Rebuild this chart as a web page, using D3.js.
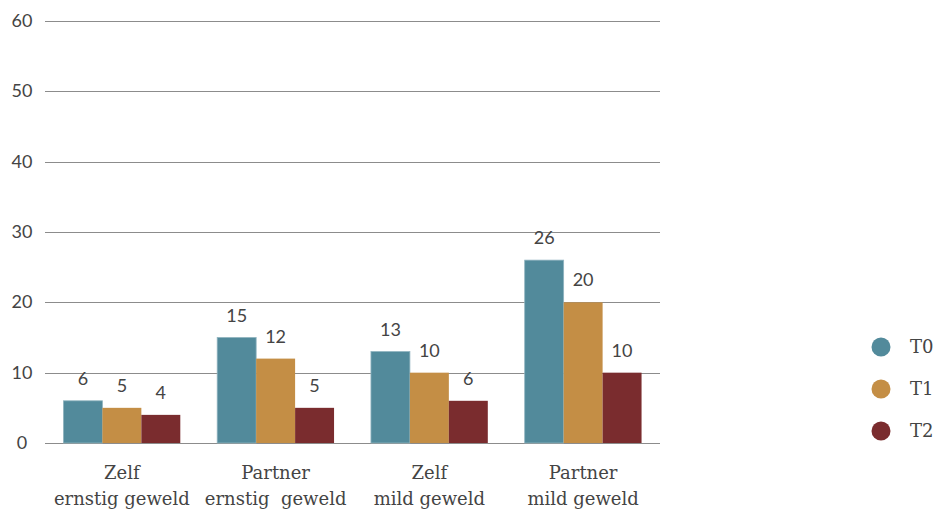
<!DOCTYPE html>
<meta charset="utf-8">
<style>
body { margin: 0; background: #fff; }
.grid line { stroke: #8c8c8c; stroke-width: 1; }
.tick-label { font-family: Lato, "Noto Sans", sans-serif; font-size: 18px; fill: #444; }
.value { font-family: Lato, "Noto Sans", sans-serif; font-size: 18px; fill: #444; text-anchor: middle; }
.cat { font-family: "DejaVu Serif", "Liberation Serif", serif; font-size: 18px; fill: #444; text-anchor: middle; }
.legend text { font-family: "DejaVu Serif", "Liberation Serif", serif; font-size: 18px; fill: #444; }
</style>
<svg width="939" height="510"></svg>
<script src="https://d3js.org/d3.v7.min.js"></script>
<script>

var categories = [["Zelf", "ernstig geweld"], ["Partner", "ernstig  geweld"], ["Zelf", "mild geweld"], ["Partner", "mild geweld"]];
var seriesNames = ["T0", "T1", "T2"];
var t0 = [6, 15, 13, 26];
var t1 = [5, 12, 10, 20];
var t2 = [4, 5, 6, 10];
var ticks = [0, 10, 20, 30, 40, 50, 60];

var colors = ["#528a9b", "#c48e45", "#7a2c2e"];
var series = [t0, t1, t2];

var svg = d3.select("svg");

var x0 = d3.scaleBand()
    .domain(d3.range(categories.length))
    .range([45, 660])
    .paddingInner(0.24)
    .paddingOuter(0.12);

var x1 = d3.scaleBand()
    .domain(d3.range(seriesNames.length))
    .range([0, x0.bandwidth()]);

var y = d3.scaleLinear()
    .domain([0, 60])
    .range([443, 21]);

var grid = svg.append("g").attr("class", "grid");
grid.selectAll("line")
  .data(ticks)
  .enter().append("line")
    .attr("x1", 45)
    .attr("x2", 660)
    .attr("y1", function(d) { return Math.round(y(d)) + 0.5; })
    .attr("y2", function(d) { return Math.round(y(d)) + 0.5; });

svg.selectAll(".tick-label")
  .data(ticks)
  .enter().append("text")
    .attr("class", "tick-label")
    .attr("x", 22)
    .attr("y", function(d) { return y(d) + 6; })
    .attr("text-anchor", "middle")
    .text(function(d) { return d; });

var group = svg.selectAll(".group")
  .data(categories)
  .enter().append("g")
    .attr("class", "group")
    .attr("transform", function(d, i) { return "translate(" + x0(i) + ",0)"; });

group.selectAll("rect")
  .data(function(d, i) { return series.map(function(s, j) { return {s: j, v: s[i]}; }); })
  .enter().append("rect")
    .attr("x", function(d) { return x1(d.s); })
    .attr("y", function(d) { return y(d.v); })
    .attr("width", x1.bandwidth())
    .attr("height", function(d) { return y(0) - y(d.v); })
    .attr("fill", function(d) { return colors[d.s]; })
    .attr("stroke", function(d) { return d.s === 0 ? "#8fb3bf" : "none"; })
    .attr("stroke-width", 0.8);

group.selectAll(".value")
  .data(function(d, i) { return series.map(function(s, j) { return {s: j, v: s[i]}; }); })
  .enter().append("text")
    .attr("class", "value")
    .attr("x", function(d) { return x1(d.s) + x1.bandwidth() / 2; })
    .attr("y", function(d) { return y(d.v) - 16; })
    .text(function(d) { return d.v; });

group.append("text")
    .attr("class", "cat")
    .attr("x", x0.bandwidth() / 2)
    .attr("y", 479)
    .text(function(d) { return d[0]; });

group.append("text")
    .attr("class", "cat")
    .attr("x", x0.bandwidth() / 2)
    .attr("y", 505)
    .style("white-space", "pre")
    .text(function(d) { return d[1]; });

var legend = svg.append("g").attr("class", "legend")
  .selectAll("g")
  .data(seriesNames)
  .enter().append("g")
    .attr("transform", function(d, i) { return "translate(881," + (347 + i * 42) + ")"; });

legend.append("circle")
    .attr("r", 9.5)
    .attr("fill", function(d, i) { return colors[i]; });

legend.append("text")
    .attr("x", 29)
    .attr("y", 6)
    .text(function(d) { return d; });

</script>
